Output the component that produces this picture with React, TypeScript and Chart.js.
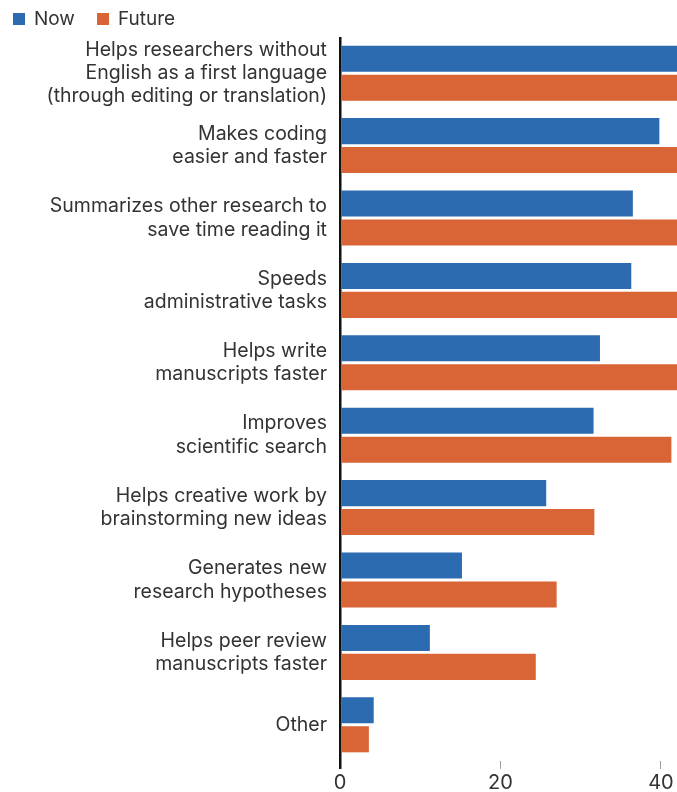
import React, { useEffect, useRef } from "react";
import { Chart, registerables } from "chart.js";

Chart.register(...registerables);

const categories: string[][] = [
  ["Helps researchers without", "English as a first language", "(through editing or translation)"],
  ["Makes coding", "easier and faster"],
  ["Summarizes other research to", "save time reading it"],
  ["Speeds", "administrative tasks"],
  ["Helps write", "manuscripts faster"],
  ["Improves", "scientific search"],
  ["Helps creative work by", "brainstorming new ideas"],
  ["Generates new", "research hypotheses"],
  ["Helps peer review", "manuscripts faster"],
  ["Other"],
];

const nowValues = [55, 39.8, 36.5, 36.3, 32.4, 31.6, 25.7, 15.2, 11.2, 4.2];
const futureValues = [68, 50, 46, 45, 44, 41.3, 31.7, 27.0, 24.4, 3.6];

const seriesNames = ["Now", "Future"];
const seriesColors = ["#2c6bb0", "#d96436"];
const xTicks = [0, 20, 40];
const xMin = 0;
const xMax = 42;

const FONT = "Inter, 'Noto Sans', sans-serif";

export default function App() {
  const canvasRef = useRef<HTMLCanvasElement | null>(null);

  useEffect(() => {
    document.body.style.margin = "0";
    const canvas = canvasRef.current;
    if (!canvas) return;
    const chart = new Chart(canvas, {
      type: "bar",
      data: {
        labels: categories,
        datasets: [
          {
            label: seriesNames[0],
            data: nowValues,
            backgroundColor: seriesColors[0],
            categoryPercentage: 0.8,
            barPercentage: 0.9,
          },
          {
            label: seriesNames[1],
            data: futureValues,
            backgroundColor: seriesColors[1],
            categoryPercentage: 0.8,
            barPercentage: 0.9,
          },
        ],
      },
      options: {
        indexAxis: "y",
        animation: false,
        responsive: false,
        maintainAspectRatio: false,
        layout: { padding: { top: 37, left: 0, right: 0, bottom: 0 } },
        plugins: {
          legend: { display: false },
          tooltip: { enabled: false },
        },
        scales: {
          x: {
            type: "linear",
            min: xMin,
            max: xMax,
            afterBuildTicks: (scale: any) => {
              scale.ticks = xTicks.map((v) => ({ value: v }));
            },
            afterFit: (scale: any) => {
              scale.height = 31;
              scale.paddingLeft = 0;
              scale.paddingRight = 0;
            },
            border: { display: false },
            grid: {
              drawOnChartArea: true,
              drawTicks: true,
              tickLength: 8,
              color: (ctx: any) => (ctx.tick && ctx.tick.value === 0 ? "#111111" : "rgba(0,0,0,0)"),
              tickColor: (ctx: any) => (ctx.tick && ctx.tick.value === 0 ? "#111111" : "#a0a0a0"),
              lineWidth: (ctx: any) => (ctx.tick && ctx.tick.value === 0 ? 2.5 : 1),
              tickWidth: (ctx: any) => (ctx.tick && ctx.tick.value === 0 ? 2.5 : 1),
            },
            ticks: {
              color: "#333333",
              padding: 2,
              font: { family: FONT, size: 20 },
              maxRotation: 0,
            },
          },
          y: {
            afterFit: (scale: any) => {
              scale.width = 340;
              scale.paddingTop = 0;
              scale.paddingBottom = 0;
            },
            border: { display: false },
            grid: { display: false, drawTicks: false },
            ticks: {
              color: "#333333",
              padding: 13,
              autoSkip: false,
              font: { family: FONT, size: 19.5, lineHeight: 1.2 },
            },
          },
        },
      },
    });
    return () => chart.destroy();
  }, []);

  return (
    <div style={{ position: "relative", width: 677, height: 792, background: "#ffffff" }}>
      <canvas ref={canvasRef} width={677} height={792} style={{ display: "block" }} />
      <div
        style={{
          position: "absolute",
          left: 13,
          top: 7,
          display: "flex",
          alignItems: "center",
          fontFamily: FONT,
          fontSize: 19,
          color: "#333333",
          lineHeight: "24px",
        }}
      >
        {seriesNames.map((name, i) => (
          <div key={name} style={{ display: "flex", alignItems: "center", marginRight: 22 }}>
            <span
              style={{
                display: "inline-block",
                width: 12,
                height: 12,
                background: seriesColors[i],
                marginRight: 9,
              }}
            />
            <span>{name}</span>
          </div>
        ))}
      </div>
    </div>
  );
}
